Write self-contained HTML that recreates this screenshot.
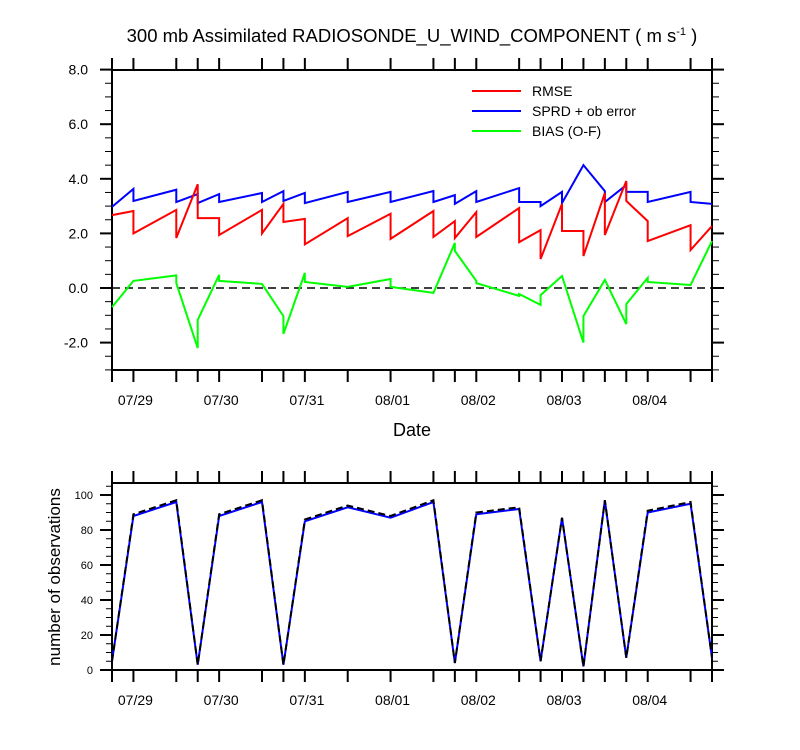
<!DOCTYPE html>
<html><head><meta charset="utf-8">
<style>
html,body{margin:0;padding:0;background:#fff;}
svg{display:block;font-family:"Liberation Sans",Arial,sans-serif;}
</style></head>
<body>
<svg id="chart" width="800" height="750" viewBox="0 0 800 750">
<text x="412" y="42" font-size="18.5" text-anchor="middle">300 mb Assimilated RADIOSONDE_U_WIND_COMPONENT ( m s<tspan font-size="11" dy="-7">-1</tspan><tspan dy="7"> )</tspan></text>
<g id="topPanel"></g>
<g id="botPanel"></g>
<text x="412" y="436" font-size="18" text-anchor="middle">Date</text>
<text transform="translate(60,577) rotate(-90)" font-size="17" text-anchor="middle">number of observations</text>
<g>
<line x1="472" y1="91" x2="521" y2="91" stroke="#ff0000" stroke-width="2"/>
<text x="532" y="96" font-size="14">RMSE</text>
<line x1="472" y1="111" x2="521" y2="111" stroke="#0000ff" stroke-width="2"/>
<text x="532" y="116" font-size="14">SPRD + ob error</text>
<line x1="472" y1="131" x2="521" y2="131" stroke="#00ff00" stroke-width="2"/>
<text x="532" y="136" font-size="14">BIAS (O-F)</text>
</g>
</svg>
<script>
// hours since 07/28 18Z
const tickHours=[0,6,18,24,30,42,48,54,66,78,90,96,102,114,120,126,132,138,144,150,162,168];
const dateLabels=["07/29","07/30","07/31","08/01","08/02","08/03","08/04"];
const dateHours=[6,30,54,78,102,126,150];
const rmseH=[0,6,6,18,18,24,24,30,30,42,42,48,48,54,54,66,66,78,78,90,90,96,96,102,102,114,114,120,120,126,126,132,132,138,138,144,144,150,150,162,162,168];
const rmseV=[2.67,2.82,2.0,2.86,1.83,3.8,2.56,2.56,1.94,2.86,2.0,3.08,2.42,2.53,1.6,2.56,1.9,2.72,1.8,2.82,1.87,2.45,1.83,2.78,1.87,2.93,1.68,2.12,1.06,3.08,2.09,2.09,1.17,3.48,1.94,3.92,3.19,2.45,1.72,2.3,1.39,2.27];
const sprdH=[0,6,6,18,18,24,24,30,30,42,42,48,48,54,54,66,66,78,78,90,90,96,96,102,102,114,114,120,120,126,126,132,138,138,144,144,150,150,162,162,168];
const sprdV=[2.97,3.63,3.19,3.6,3.15,3.44,3.11,3.44,3.15,3.48,3.15,3.55,3.19,3.48,3.11,3.52,3.15,3.52,3.15,3.55,3.15,3.4,3.08,3.55,3.15,3.66,3.15,3.15,3.0,3.52,3.11,4.5,3.55,3.15,3.77,3.52,3.52,3.15,3.52,3.15,3.08];
const biasH=[0,6,18,18,24,24,30,30,42,48,48,54,54,66,78,78,90,96,96,102,102,114,114,120,120,126,132,132,138,144,144,150,150,162,168];
const biasV=[-0.7,0.26,0.46,0.18,-2.2,-1.17,0.48,0.26,0.15,-1.03,-1.68,0.55,0.22,0.04,0.33,0.04,-0.18,1.65,1.36,0.26,0.18,-0.29,-0.22,-0.62,-0.26,0.44,-2.0,-1.03,0.3,-1.32,-0.59,0.37,0.22,0.11,1.72];
const obsH=[0,6,18,24,30,42,48,54,66,78,90,96,102,114,120,126,132,138,144,150,162,168];
const obsV=[5,88,96,3,88,96,3,85,93,87,96,4,89,92,5,87,2,97,7,90,95,7];
const obsDashV=[5,89,97,3,89,97,3,86,94,88,97,4,90,93,5,87,2,97,7,91,96,7];
const topTicks=[-2,0,2,4,6,8];
const botTicks=[0,20,40,60,80,100];

const NS="http://www.w3.org/2000/svg";
const X0=112,X1=712;
const xs=h=>X0+h*(X1-X0)/168;
const yTop=v=>288-v*27.3;
const yBot=v=>670-v*1.75;
function mk(par,tag,at){const e=document.createElementNS(NS,tag);for(const k in at)e.setAttribute(k,at[k]);par.appendChild(e);return e;}
const topG=document.getElementById('topPanel'),botG=document.getElementById('botPanel');

function panel(g,yT,yB,pfx){
  const r=mk(g,'rect',{x:X0,y:yT,width:X1-X0,height:yB-yT,fill:'none',stroke:'#000','stroke-width':2});
  
  
  tickHours.forEach(h=>{
    const a=mk(g,'line',{x1:xs(h),x2:xs(h),y1:yB,y2:yB+12,stroke:'#000','stroke-width':2});
    
    
    const b=mk(g,'line',{x1:xs(h),x2:xs(h),y1:yT,y2:yT-12,stroke:'#000','stroke-width':2});
    
    
  });
  dateHours.forEach((h,i)=>{
    const t=mk(g,'text',{x:xs(h)+2,y:yB+35,'font-size':14,'text-anchor':'middle'});
    t.textContent=dateLabels[i];
    
    
  });
}
panel(topG,70,370,'top');
panel(botG,483,670,'bottom');

for(let v=-3;v<=8.001;v+=0.5){
  const major=Math.abs(v/2-Math.round(v/2))<1e-6;
  const len=major?12:7,y=yTop(v);
  const l=mk(topG,'line',{x1:X0-len,x2:X0,y1:y,y2:y,stroke:'#000','stroke-width':major?2:1});
  
  
  const r=mk(topG,'line',{x1:X1,x2:X1+len,y1:y,y2:y,stroke:'#000','stroke-width':major?2:1});
  
  
}
topTicks.forEach(v=>{
  const t=mk(topG,'text',{x:88,y:yTop(v)+5,'font-size':14,'text-anchor':'end'});
  t.textContent=v.toFixed(1);
  
  
});
for(let v=0;v<=107;v+=5){
  const major=v%20===0;const len=major?12:6,y=yBot(v);
  const l=mk(botG,'line',{x1:X0-len,x2:X0,y1:y,y2:y,stroke:'#000','stroke-width':major?2:1});
  
  
  const r=mk(botG,'line',{x1:X1,x2:X1+len,y1:y,y2:y,stroke:'#000','stroke-width':major?2:1});
  
  
}
botTicks.forEach(v=>{
  const t=mk(botG,'text',{x:93,y:yBot(v)+4,'font-size':11,'text-anchor':'end'});
  t.textContent=v;
  
  
});
const z=mk(topG,'line',{x1:X0,x2:X1,y1:yTop(0),y2:yTop(0),stroke:'#000','stroke-width':1.5,'stroke-dasharray':'8,5'});



function series(g,H,V,yf,col,name,dash){
  const p=mk(g,'polyline',{points:H.map((h,i)=>xs(h)+','+yf(V[i])).join(' '),fill:'none',stroke:col,'stroke-width':2,'stroke-linejoin':'miter'});
  if(dash)p.setAttribute('stroke-dasharray',dash);
  
  
}
series(topG,sprdH,sprdV,yTop,'#0000ff','sprd-line');
series(topG,rmseH,rmseV,yTop,'#ff0000','rmse-line');
series(topG,biasH,biasV,yTop,'#00ff00','bias-line');
series(botG,obsH,obsV,yBot,'#0000ff','obs-count-line');
series(botG,obsH,obsDashV,yBot,'#000000','obs-count-dashed-line','7,4');
</script>
</body></html>
